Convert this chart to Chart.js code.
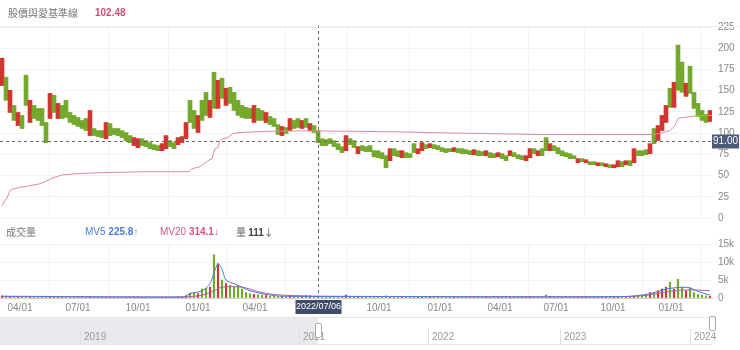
<!DOCTYPE html>
<html><head><meta charset="utf-8">
<script src="https://cdn.jsdelivr.net/npm/chart.js@4/dist/chart.umd.min.js"></script>
<style>
body{margin:0;width:740px;height:350px;overflow:hidden;background:#fff;position:relative;font-family:"Noto Sans CJK TC","Noto Sans",sans-serif}
canvas{position:absolute;left:0}
#c1{top:0}
#c2{top:225px}
.t{position:absolute;font-size:10px;white-space:nowrap;line-height:14px}
.n{font-family:Arial,'Liberation Sans',sans-serif}
#hline{position:absolute;left:0;top:26px;width:740px;height:1px;background:#f0f0f0}
#nav{position:absolute;left:0;top:317px;width:712px;height:26px;border-top:1px solid #e3e3e3;border-bottom:1px solid #e3e3e3}
#navsel{position:absolute;left:0;top:0;width:318px;height:26px;background:#e8eaed}
.yr{position:absolute;top:11px;font-size:10px;color:#999;padding-left:3px;border-left:1px solid #e0e0e0;height:15px;line-height:16px;font-family:Arial,'Liberation Sans',sans-serif}
.hd{position:absolute;width:5px;height:13px;background:#fff;border:1px solid #aaa;border-radius:2px}
</style></head>
<body>
<canvas id="c2" width="740" height="93"></canvas>
<canvas id="c1" width="740" height="230"></canvas>
<div id="hline"></div>
<div class="t" style="left:8px;top:6px;color:#777">股價與愛基準線</div>
<div class="t n" style="left:95px;top:6px;color:#c9507a;font-weight:bold">102.48</div>
<div class="t" style="left:6px;top:225px;color:#777">成交量</div>
<div class="t n" style="left:85px;top:225px;color:#4f7bd3">MV5 <b>225.8</b>↑</div>
<div class="t n" style="left:160px;top:225px;color:#d4577c">MV20 <b>314.1</b>↓</div>
<div class="t" style="left:236px;top:225px;color:#666">量 <b class="n" style="color:#444">111</b>↓</div>
<div id="nav">
  <div id="navsel"></div>
  <div class="yr" style="left:80px">2019</div>
  <div class="yr" style="left:299px">2021</div>
  <div class="yr" style="left:428px">2022</div>
  <div class="yr" style="left:560px">2023</div>
  <div class="yr" style="left:690px">2024</div>
  <div class="hd" style="left:315px;top:5px"></div>
  <div class="hd" style="left:709px;top:-2px"></div>
</div>
<script>
// ---- data (one entry per ~4 trading-day bin) ----
const priceHigh = [188.3,165.8,150.4,132.6,124.3,120.8,168.2,138.6,132.6,129.1,
129.1,112.5,146.8,144.5,135,132.6,138.6,124.3,120.8,118.4,
114.9,117.2,126.7,105.4,103,103,112.5,111.3,105.4,105.4,
103,100.7,97.1,94.7,93.5,93.5,91.2,88.8,86.4,85.3,
87.6,97.1,91.2,88.8,94.7,95.9,112.5,138.6,126.7,120.8,
138.6,148,138.6,171.7,162.2,164.6,152.8,153.9,148,138.6,
132.6,130.3,129.1,132.6,129.1,126.7,124.3,119.6,117.2,110.1,
107.8,106.6,117.2,114.9,117.2,114.9,117.2,111.3,108.9,103,
93.5,92.4,93.5,91.2,87.6,84.1,97.1,93.5,91.2,84.1,
85.3,84.1,85.3,79.3,79.3,77,73.4,81.7,81.7,79.3,
79.3,77,75.8,87.6,81.7,88.8,86.4,87.6,86.4,85.3,
82.9,81.7,81.7,82.9,81.7,81.7,80.5,79.3,80.5,79.3,
78.2,79.3,77,75.8,77,75.8,73.4,79.3,77,74.6,
73.4,73.4,81.7,81.7,79.3,81.7,94.7,87.6,85.3,82.9,
79.3,77,75.8,73.4,69.9,69.9,68.7,66.3,66.3,65.1,
65.1,63.9,62.8,62.8,67.5,66.3,67.5,67.5,81.7,79.3,
79.3,80.5,87.6,105.4,108.9,120.8,132.6,152.8,159.9,203.7,
183.6,158.7,178.8,148,135,126.7,122,126.7];
const priceLow = [156,138.6,124.3,114.9,108.9,105.4,132.6,112.5,117.2,114.9,
108.9,88.8,117.2,124.3,117.2,117.2,118.4,112.5,110.1,107.8,
105.4,103,97.1,97.1,95.9,94.7,93.5,97.1,98.3,97.1,
94.7,91.2,88.8,85.3,82.9,85.3,84.1,81.7,80.5,79.3,
79.3,81.7,84.1,81.7,86.4,88.8,93.5,112.5,105.4,100.7,
114.9,120.8,118.4,129.1,129.1,140.9,132.6,135,126.7,120.8,
118.4,117.2,117.2,112.5,114.9,114.9,112.5,110.1,107.8,98.3,
97.1,99.5,103,105.4,106.6,105.4,106.6,103,100.7,88.8,
85.3,85.3,87.6,84.1,80.5,77,79.3,86.4,82.9,75.8,
79.3,78.2,78.2,72.2,71.1,69.9,59.2,67.5,73.4,72.2,
71.1,71.1,71.1,77,75.8,79.3,81.7,82.9,81.7,80.5,
78.2,77,78.2,78.2,77,75.8,75.8,74.6,74.6,73.4,
73.4,73.4,71.1,71.1,72.2,69.9,67.5,73.4,72.2,69.9,
68.7,67.5,71.1,75.8,73.4,73.4,79.3,79.3,79.3,75.8,
73.4,72.2,69.9,69.9,65.1,66.3,65.1,62.8,62.8,61.6,
61.6,60.4,59.2,59.2,60.4,60.4,62.8,61.6,65.1,73.4,
73.4,74.6,75.8,87.6,91.2,103,112.5,130.3,130.3,150.4,
148,143.3,146.8,129.1,119.6,114.9,112.5,113.7];
const isRed = [1,0,1,0,1,0,0,1,0,0, 0,0,1,0,1,0,0,0,0,0, 0,0,1,0,0,0,1,0,0,0, 0,0,0,1,1,0,0,0,0,0,
1,1,0,0,1,1,1,0,0,1, 0,0,1,0,1,0,1,0,0,0, 0,0,0,1,0,0,1,0,0,0, 1,0,1,0,0,1,0,1,0,0,
0,0,0,0,0,0,1,0,0,1, 0,0,0,0,0,0,0,1,0,0, 1,0,0,0,1,1,0,1,0,0, 0,0,0,1,0,0,0,0,1,0,
0,1,0,0,1,0,0,1,0,0, 0,1,1,0,1,0,0,1,0,0, 0,0,0,0,1,0,1,0,0,1, 0,1,0,1,1,0,1,0,1,0,
0,0,1,0,1,1,1,0,1,0, 0,1,0,0,0,0,0,1];
const baseIdx = [0,0.5,1.25,2,2.75,5.25,9.5,11.25,12.75,15.25,18.75,23.75,35.75,46.75,47.5,49.5,51.5,52.5,53.25,54,54.5,55.25,56.5,57.75,59.5,64.5,70.75,79.5,99.5,105.75,134.5,162.5,164.5,167,168.25,169,170.25,172.5,173.75,177.5];
const baseVal = [14.2,18.9,23.7,32,34.3,36.7,40.3,43.8,47.4,50.9,52.1,53.3,54.5,54.5,58,60.4,67.5,69.9,81.7,82.9,91.2,93.5,94.7,99.5,100.7,101.8,102.5,102.5,101.5,100.7,98.3,98.3,99.5,103,108.9,117.2,118.4,119.6,120.8,120.8];
const volume = [600,500,400,400,350,300,500,400,300,300, 300,400,350,300,300,250,300,250,250,200,
200,200,300,200,200,200,250,200,200,200, 200,200,200,250,250,200,200,150,150,150,
200,250,200,200,250,300,600,1400,1500,1200, 2500,2700,3000,12000,9500,5000,4000,3500,3000,3500,
2500,1500,1200,1000,900,800,700,500,500,400, 400,400,500,500,700,600,700,600,500,500,
400,400,400,400,400,400,800,400,400,400, 300,300,300,300,300,300,600,400,300,300,
300,300,300,300,300,300,300,300,300,300, 300,300,300,300,300,300,300,300,300,300,
300,300,300,300,300,300,300,300,300,300, 300,300,300,300,300,300,800,400,300,300,
300,300,300,300,300,300,300,300,300,300, 300,300,300,300,300,300,300,300,500,600,
800,1000,1500,1500,2000,2500,3000,4400,2500,5200, 3000,2000,2800,1500,1000,800,600,500];
const mv5Idx = [0,45,46,47,50,52,53,54,55,56,58,60,62,66,70,100,155,160,163,166,168,170,172,174,177];
const mv5Val = [500,250,500,1200,2000,4000,7000,9500,8000,5000,4000,3000,2000,1000,500,400,400,800,1500,2500,2800,3000,2800,1800,800];
const mv20Idx = [0,46,50,53,55,60,65,70,80,150,160,165,170,174,177];
const mv20Val = [400,300,800,2000,3000,3000,1500,800,500,300,600,1500,2200,2200,2000];
const tickIdx = [4.5,19,34,49,63.25,78.5,94.25,109.5,124.5,138.5,152.75,167.25];
const tickText = ["04/01","07/01","10/01","01/01","04/01","07/01","10/01","01/01","04/01","07/01","10/01","01/01"];
const crossIdx = 79, crossDate = "2022/07/06", refPrice = 91;

const GREEN = '#74a92e', RED = '#d2352f', PINK = '#de8aa3';
const N = priceHigh.length;
const xRange = {type:'linear', min:-0.5, max:N-0.5, offset:false};

const cross1 = {
  id:'cross1',
  afterDatasetsDraw(c){
    const {ctx, chartArea:a, scales:{x,y}} = c;
    ctx.save();
    ctx.setLineDash([3,3]); ctx.strokeStyle='#666'; ctx.lineWidth=1;
    const yy = Math.round(y.getPixelForValue(refPrice))+0.5;
    ctx.beginPath(); ctx.moveTo(a.left,yy); ctx.lineTo(a.right,yy); ctx.stroke();
    const xx = Math.round(x.getPixelForValue(crossIdx))+0.5;
    ctx.beginPath(); ctx.moveTo(xx,a.top-2); ctx.lineTo(xx,c.height); ctx.stroke();
    ctx.setLineDash([]);
    ctx.fillStyle='#4b5a7a'; ctx.fillRect(a.right,yy-7,27,14);
    ctx.fillStyle='#fff'; ctx.font='10px Arial, "Liberation Sans"'; ctx.textAlign='center'; ctx.textBaseline='middle';
    ctx.fillText(refPrice.toFixed(2), a.right+13.5, yy);
    ctx.restore();
  }
};
const cross2 = {
  id:'cross2',
  afterDraw(c){
    const {ctx, chartArea:a, scales:{x}} = c;
    ctx.save();
    ctx.setLineDash([3,3]); ctx.strokeStyle='#666'; ctx.lineWidth=1;
    const xx = Math.round(x.getPixelForValue(crossIdx))+0.5;
    ctx.beginPath(); ctx.moveTo(xx,5); ctx.lineTo(xx,a.bottom); ctx.stroke();
    ctx.setLineDash([]);
    ctx.fillStyle='#3f4c69'; ctx.fillRect(xx-23,a.bottom+2,46,14);
    ctx.fillStyle='#fff'; ctx.font='9px Arial, "Liberation Sans"'; ctx.textAlign='center'; ctx.textBaseline='middle';
    ctx.fillText(crossDate, xx, a.bottom+9);
    ctx.restore();
  }
};

const setTicks = s => { s.ticks = tickIdx.map(v => ({value:v})); };
const tickFont = {size:10, family:'Arial, "Liberation Sans", sans-serif'};

new Chart(document.getElementById('c1'), {
  type:'bar',
  data:{datasets:[
    {type:'line', data: baseIdx.map((v,i)=>({x:v,y:baseVal[i]})), borderColor:PINK, borderWidth:1, pointRadius:0, tension:0},
    {type:'bar', data: priceHigh.map((h,i)=>({x:i,y:[priceLow[i],h]})),
     backgroundColor: isRed.map(r=>r?RED:GREEN), barThickness:4, borderWidth:0}
  ]},
  options:{
    responsive:false, devicePixelRatio:1, animation:false,
    plugins:{legend:{display:false}, tooltip:{enabled:false}},
    layout:{padding:{top:27,bottom:3,left:0,right:0}},
    scales:{
      x:{...xRange, afterBuildTicks:setTicks, afterFit:s=>{s.height=0;}, ticks:{display:false},
         grid:{color:'#f2f2f2', drawTicks:false}, border:{display:false}},
      y:{position:'right', min:0, max:225, afterFit:s=>{s.width=28;},
         ticks:{stepSize:25, color:'#888', font:tickFont, padding:6},
         grid:{color:'#f2f2f2', drawTicks:false}, border:{display:false}}
    }
  },
  plugins:[cross1]
});

new Chart(document.getElementById('c2'), {
  type:'bar',
  data:{datasets:[
    {type:'line', data: mv5Idx.map((v,i)=>({x:v,y:mv5Val[i]})), borderColor:'#4f7bd3', borderWidth:1, pointRadius:0, tension:0.3},
    {type:'line', data: mv20Idx.map((v,i)=>({x:v,y:mv20Val[i]})), borderColor:'#b05fa8', borderWidth:1, pointRadius:0, tension:0.3},
    {type:'bar', data: volume.map((v,i)=>({x:i,y:v})), backgroundColor: isRed.map(r=>r?RED:GREEN), barThickness:1.5, borderWidth:0}
  ]},
  options:{
    responsive:false, devicePixelRatio:1, animation:false,
    plugins:{legend:{display:false}, tooltip:{enabled:false}},
    layout:{padding:{top:19,bottom:0,left:0,right:0}},
    scales:{
      x:{...xRange, afterBuildTicks:setTicks, afterFit:s=>{s.height=20;},
         ticks:{color:'#888', font:tickFont, padding:4, maxRotation:0, autoSkip:false,
                callback:v=>{const k=tickIdx.indexOf(v); return k<0?'':tickText[k];}},
         grid:{color:'#f2f2f2', drawTicks:false}, border:{color:'#cfcfcf'}},
      y:{position:'right', min:0, max:15000, afterFit:s=>{s.width=28;},
         ticks:{stepSize:5000, color:'#888', font:tickFont, padding:6, callback:v=>v===0?'0':(v/1000)+'k'},
         grid:{color:'#f2f2f2', drawTicks:false}, border:{display:false}}
    }
  },
  plugins:[cross2]
});
</script>
</body></html>
